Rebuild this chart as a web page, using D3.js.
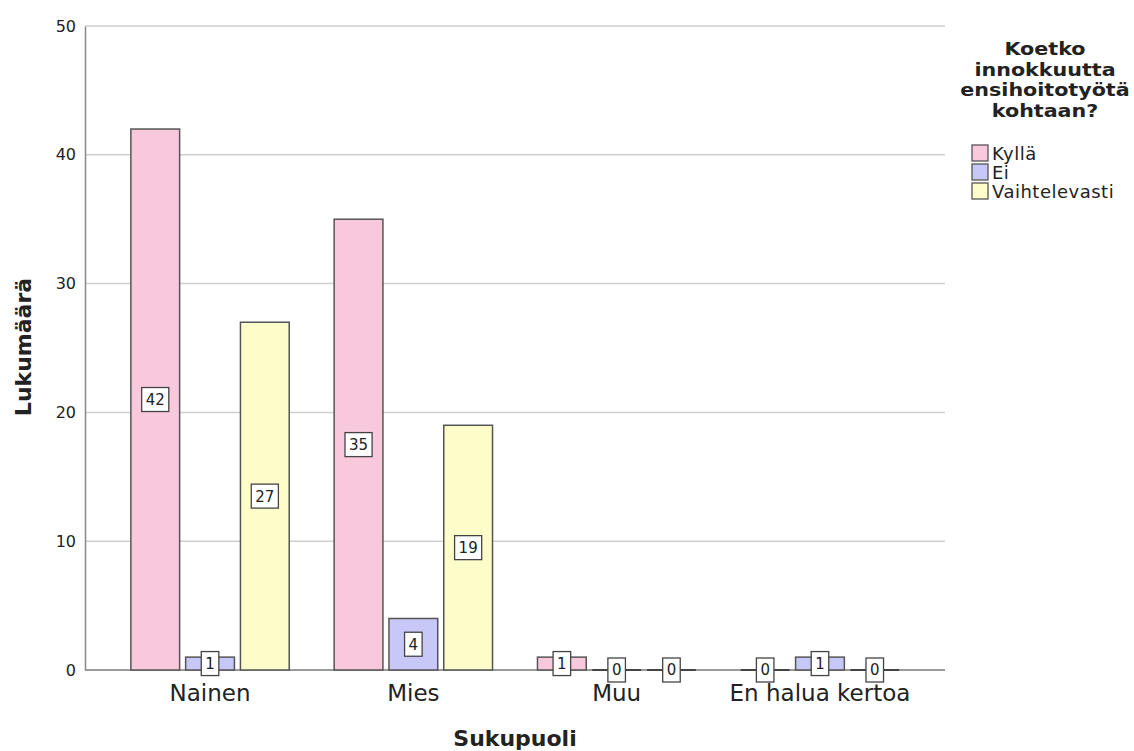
<!DOCTYPE html>
<html>
<head>
<meta charset="utf-8">
<script src="https://cdn.jsdelivr.net/npm/d3@7"></script>
<style>
  html, body { margin: 0; padding: 0; background: #fff; }
  svg { display: block; font-family: "DejaVu Sans", sans-serif; }
</style>
</head>
<body>
<svg id="chart" width="1134" height="751"></svg>
<script>
// Gender categories on the x axis
const categories = ["Nainen", "Mies", "Muu", "En halua kertoa"];
// Answer groups (legend order)
const seriesNames = ["Kyllä", "Ei", "Vaihtelevasti"];
// Counts per answer, one value per gender category
const kyllaValues = [42, 35, 1, 0];
const eiValues = [1, 4, 0, 1];
const vaihtelevastiValues = [27, 19, 0, 0];
const yTicks = [0, 10, 20, 30, 40, 50];
const legendTitle = ["Koetko", "innokkuutta", "ensihoitotyötä", "kohtaan?"];

const seriesValues = [kyllaValues, eiValues, vaihtelevastiValues];
const colors = ["#f8c8dc", "#c8c8f8", "#fdfdca"];

const svg = d3.select("#chart");
const plotLeft = 85, plotRight = 945, plotTop = 26, plotBottom = 670;

const x0 = d3.scaleBand().domain(categories).range([plotLeft, plotRight])
  .paddingInner(0).paddingOuter(0.115);
const x1 = d3.scaleBand().domain(seriesNames).range([0, x0.bandwidth()])
  .paddingInner(0.11).paddingOuter(0.41);
const y = d3.scaleLinear().domain([0, 50]).range([plotBottom, plotTop]);
const color = d3.scaleOrdinal().domain(seriesNames).range(colors);

// Horizontal gridlines
svg.append("g").selectAll("line").data(yTicks.filter(t => t > 0)).join("line")
  .attr("x1", plotLeft).attr("x2", plotRight)
  .attr("y1", d => y(d)).attr("y2", d => y(d))
  .attr("stroke", "#cfcfcf").attr("stroke-width", 1.5);

// Baseline
svg.append("line").attr("x1", plotLeft).attr("x2", plotRight)
  .attr("y1", y(0)).attr("y2", y(0))
  .attr("stroke", "#9a9a9a").attr("stroke-width", 2);

// Y axis
const yAxis = d3.axisLeft(y).tickValues(yTicks).tickSize(0).tickPadding(9);
const yg = svg.append("g").attr("transform", `translate(${plotLeft},0)`).call(yAxis);
yg.select(".domain").attr("stroke", "#888").attr("stroke-width", 1.5);
yg.selectAll("text").attr("font-size", 16).attr("fill", "#222")
  .attr("font-family", "DejaVu Sans, sans-serif");

// Flat table of bars
const rows = [];
categories.forEach((c, i) => {
  seriesNames.forEach((s, j) => {
    rows.push({ cat: c, series: s, value: seriesValues[j][i] });
  });
});

const bars = svg.append("g");
bars.selectAll("rect").data(rows.filter(d => d.value > 0)).join("rect")
  .attr("x", d => x0(d.cat) + x1(d.series))
  .attr("y", d => y(d.value))
  .attr("width", x1.bandwidth())
  .attr("height", d => y(0) - y(d.value))
  .attr("fill", d => color(d.series))
  .attr("stroke", "#555").attr("stroke-width", 1.5);

// Zero-count bars collapse to a dark line on the baseline
bars.selectAll("line").data(rows.filter(d => d.value === 0)).join("line")
  .attr("x1", d => x0(d.cat) + x1(d.series))
  .attr("x2", d => x0(d.cat) + x1(d.series) + x1.bandwidth())
  .attr("y1", y(0)).attr("y2", y(0))
  .attr("stroke", "#444").attr("stroke-width", 2);

// Value labels in boxes at the bar middle
const labels = svg.append("g").selectAll("g").data(rows).join("g")
  .attr("transform", d => `translate(${x0(d.cat) + x1(d.series) + x1.bandwidth() / 2},${(y(0) + y(d.value)) / 2})`);
labels.append("text")
  .attr("text-anchor", "middle").attr("dy", "0.36em")
  .attr("font-size", 15).attr("fill", "#222")
  .text(d => d.value);
labels.each(function () {
  const g = d3.select(this);
  const bb = g.select("text").node().getBBox();
  const w = bb.width + 8, h = 24;
  g.insert("rect", "text")
    .attr("x", -w / 2).attr("y", -h / 2).attr("width", w).attr("height", h)
    .attr("fill", "#fff").attr("stroke", "#444").attr("stroke-width", 1.3);
});

// Category labels
svg.append("g").selectAll("text").data(categories).join("text")
  .attr("x", d => x0(d) + x0.bandwidth() / 2)
  .attr("y", 701)
  .attr("text-anchor", "middle")
  .attr("font-size", 23).attr("fill", "#222")
  .text(d => d);

// Axis titles
svg.append("text").attr("x", 515).attr("y", 746)
  .attr("text-anchor", "middle").attr("font-size", 22).attr("font-weight", "bold")
  .attr("fill", "#222").text("Sukupuoli");
svg.append("text").attr("transform", "translate(31,347) rotate(-90)")
  .attr("text-anchor", "middle").attr("font-size", 22).attr("font-weight", "bold")
  .attr("fill", "#222").text("Lukumäärä");

// Legend: title lines set in a wide bold face, stretched horizontally
const legend = svg.append("g");
legend.selectAll("text.title").data(legendTitle).join("text")
  .attr("class", "title")
  .attr("transform", (d, i) => `translate(1045,${55 + i * 20.5}) scale(1.18,1)`)
  .attr("text-anchor", "middle").attr("font-size", 17.5).attr("font-weight", "bold")
  .attr("fill", "#222").text(d => d);
const items = legend.selectAll("g.item").data(seriesNames).join("g")
  .attr("class", "item")
  .attr("transform", (d, i) => `translate(972,${145 + i * 19})`);
items.append("rect").attr("width", 16).attr("height", 16)
  .attr("fill", d => color(d)).attr("stroke", "#555").attr("stroke-width", 1.3);
items.append("text").attr("x", 20).attr("y", 14.5)
  .attr("font-size", 18).attr("letter-spacing", 0.5).attr("fill", "#222").text(d => d);
</script>
</body>
</html>
